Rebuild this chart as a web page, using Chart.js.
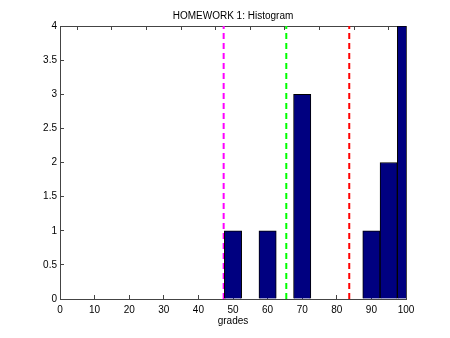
<!DOCTYPE html>
<html>
<head>
<meta charset="utf-8">
<script src="https://cdn.jsdelivr.net/npm/chart.js@4/dist/chart.umd.min.js"></script>
<style>
  body { margin: 0; background: #fff; }
  canvas { display: block; }
</style>
</head>
<body>
<canvas id="histChart" width="450" height="338"></canvas>
<script>
// histogram bins (centres) and counts
const binCenters = [50, 60, 70, 90, 95, 100];
const counts = [1, 1, 3, 1, 2, 4];

// dashed vertical marker lines
const markerValues = [47.3, 65.4, 83.6];
const markerColors = ['#ff00ff', '#00ff00', '#ff0000'];

const xMin = 0, xMax = 100, xStep = 10;
const yMin = 0, yMax = 4, yStep = 0.5;

Chart.defaults.font.family = '"Liberation Sans", Arial, Helvetica, sans-serif';
Chart.defaults.font.size = 10;
Chart.defaults.color = '#000';

const barData = binCenters.map((c, i) => ({ x: c, y: counts[i] }));

const markerSets = markerValues.map((v, i) => ({
  type: 'line',
  data: [{ x: v, y: yMin }, { x: v, y: yMax }],
  borderColor: markerColors[i],
  borderWidth: 2,
  borderDash: [6, 4],
  pointRadius: 0,
  fill: false
}));

const ctx = document.getElementById('histChart').getContext('2d');
const histChart = new Chart(ctx, {
  type: 'bar',
  data: {
    datasets: [{
      data: barData,
      backgroundColor: '#000080',
      borderColor: '#000',
      borderWidth: 1,
      barPercentage: 1,
      categoryPercentage: 1,
      clip: 0
    }].concat(markerSets)
  },
  options: {
    responsive: false,
    animation: false,
    layout: { padding: { left: 0, right: 44, top: 0, bottom: 0 } },
    plugins: {
      legend: { display: false },
      tooltip: { enabled: false },
      title: {
        display: true,
        text: 'HOMEWORK 1: Histogram',
        fullSize: false,
        color: '#000',
        font: { size: 10, weight: 'normal' },
        padding: { top: 10, bottom: 4 }
      }
    },
    scales: {
      x: {
        type: 'linear',
        min: xMin,
        max: xMax,
        offset: false,
        ticks: { stepSize: xStep, autoSkip: false, maxRotation: 0, padding: 9, color: '#000' },
        grid: { drawOnChartArea: false, offset: false, tickLength: -4, color: '#444' },
        border: { color: '#444' },
        title: { display: true, text: 'grades', color: '#000', padding: { top: 0, bottom: 11 } },
        afterFit: scale => { scale.height = 39; }
      },
      x2: {
        type: 'linear',
        position: 'top',
        min: xMin,
        max: xMax,
        offset: false,
        ticks: { display: false, stepSize: xStep },
        grid: { drawOnChartArea: false, tickLength: -4, color: '#444' },
        border: { color: '#444' },
        afterFit: scale => { scale.height = 0; }
      },
      y: {
        min: yMin,
        max: yMax,
        ticks: { stepSize: yStep, padding: 7, color: '#000', callback: v => String(v) },
        grid: { drawOnChartArea: false, tickLength: -4, color: '#444' },
        border: { color: '#444' },
        afterFit: scale => { scale.width = 60; }
      },
      y2: {
        position: 'right',
        min: yMin,
        max: yMax,
        ticks: { display: false, stepSize: yStep },
        grid: { drawOnChartArea: false, tickLength: -4, color: '#444' },
        border: { color: '#444' },
        afterFit: scale => { scale.width = 0; }
      }
    }
  }
});
</script>
</body>
</html>
